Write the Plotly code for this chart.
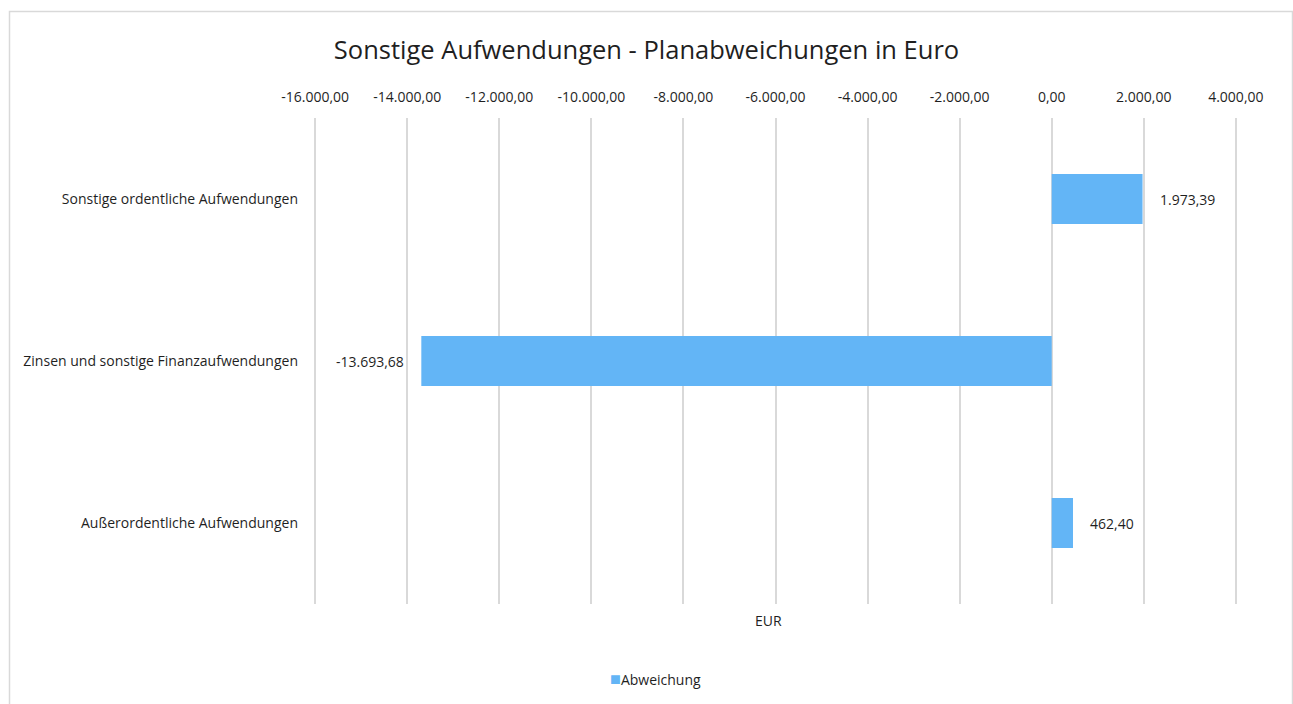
import plotly.graph_objects as go

# Plan deviations of other expenses (EUR)
categories = [
    "Sonstige ordentliche Aufwendungen",
    "Zinsen und sonstige Finanzaufwendungen",
    "Außerordentliche Aufwendungen",
]
abweichung = [1973.39, -13693.68, 462.40]
tick_values = [-16000, -14000, -12000, -10000, -8000, -6000, -4000, -2000, 0, 2000, 4000]

W, H = 1293, 704
L, R, T, B = 314, 56, 118, 100
pw, ph = W - L - R, H - T - B

def px_x(p):
    return (p - L) / pw

def px_y(p):
    return (H - B - p) / ph

def de_format(v):
    """German number format: 1.234,56 with a plain hyphen for negatives."""
    s = f"{abs(v):,.2f}".replace(",", "X").replace(".", ",").replace("X", ".")
    return ("-" if v < 0 else "") + s

FONT = "Open Sans"
TXT = "#1F1F1F"
BAR = "#63B5F6"
GRID = "#D9D9D9"
FS = 14

fig = go.Figure(
    go.Bar(
        x=abweichung,
        y=categories,
        orientation="h",
        name="Abweichung",
        marker=dict(color=BAR, line=dict(width=0)),
        showlegend=False,
        hoverinfo="skip",
    )
)

# value labels beside the bar ends
annotations = []
for cat, val in zip(categories, abweichung):
    annotations.append(
        dict(
            x=val,
            y=cat,
            xref="x",
            yref="y",
            text=de_format(val),
            showarrow=False,
            xanchor="left" if val >= 0 else "right",
            yanchor="middle",
            xshift=15 if val >= 0 else -15,
            font=dict(size=FS, color=TXT, family=FONT),
        )
    )

# axis title below the plot
annotations.append(
    dict(
        text="EUR",
        xref="paper",
        yref="paper",
        x=px_x(768),
        y=px_y(620),
        xanchor="center",
        yanchor="middle",
        showarrow=False,
        font=dict(size=FS, color=TXT, family=FONT),
    )
)

# legend entry
annotations.append(
    dict(
        text=f"<span style='color:{BAR};font-size:18px'>■</span>Abweichung",
        xref="paper",
        yref="paper",
        x=px_x(655),
        y=px_y(678),
        xanchor="center",
        yanchor="middle",
        showarrow=False,
        font=dict(size=FS, color=TXT, family=FONT),
    )
)

fig.update_layout(
    width=W,
    height=H,
    margin=dict(l=L, r=R, t=T, b=B),
    paper_bgcolor="white",
    plot_bgcolor="white",
    font=dict(family=FONT, size=FS, color=TXT),
    title=dict(
        text="Sonstige Aufwendungen - Planabweichungen in Euro",
        x=0.5,
        xref="container",
        xanchor="center",
        y=1 - 50 / H,
        yref="container",
        yanchor="middle",
        font=dict(size=25.5, color=TXT, family=FONT),
    ),
    bargap=0.69,
    showlegend=False,
    xaxis=dict(
        side="top",
        range=[-16025, 4025],
        tickvals=tick_values,
        ticktext=[de_format(v) for v in tick_values],
        showgrid=True,
        gridcolor=GRID,
        gridwidth=1.5,
        zeroline=False,
        showline=False,
        ticks="",
        ticklabelstandoff=12,
        tickfont=dict(size=FS, color=TXT, family=FONT),
    ),
    yaxis=dict(
        autorange="reversed",
        showgrid=False,
        zeroline=False,
        showline=False,
        ticks="",
        ticklabelstandoff=15,
        tickfont=dict(size=FS, color=TXT, family=FONT),
    ),
    shapes=[
        dict(
            type="rect",
            xref="paper",
            yref="paper",
            x0=px_x(9.5),
            x1=px_x(1292.5),
            y0=px_y(720),
            y1=px_y(11.5),
            line=dict(color="#D9D9D9", width=1.5),
            fillcolor="rgba(0,0,0,0)",
            layer="below",
        )
    ],
    annotations=annotations,
)

fig.write_html("out.html")
